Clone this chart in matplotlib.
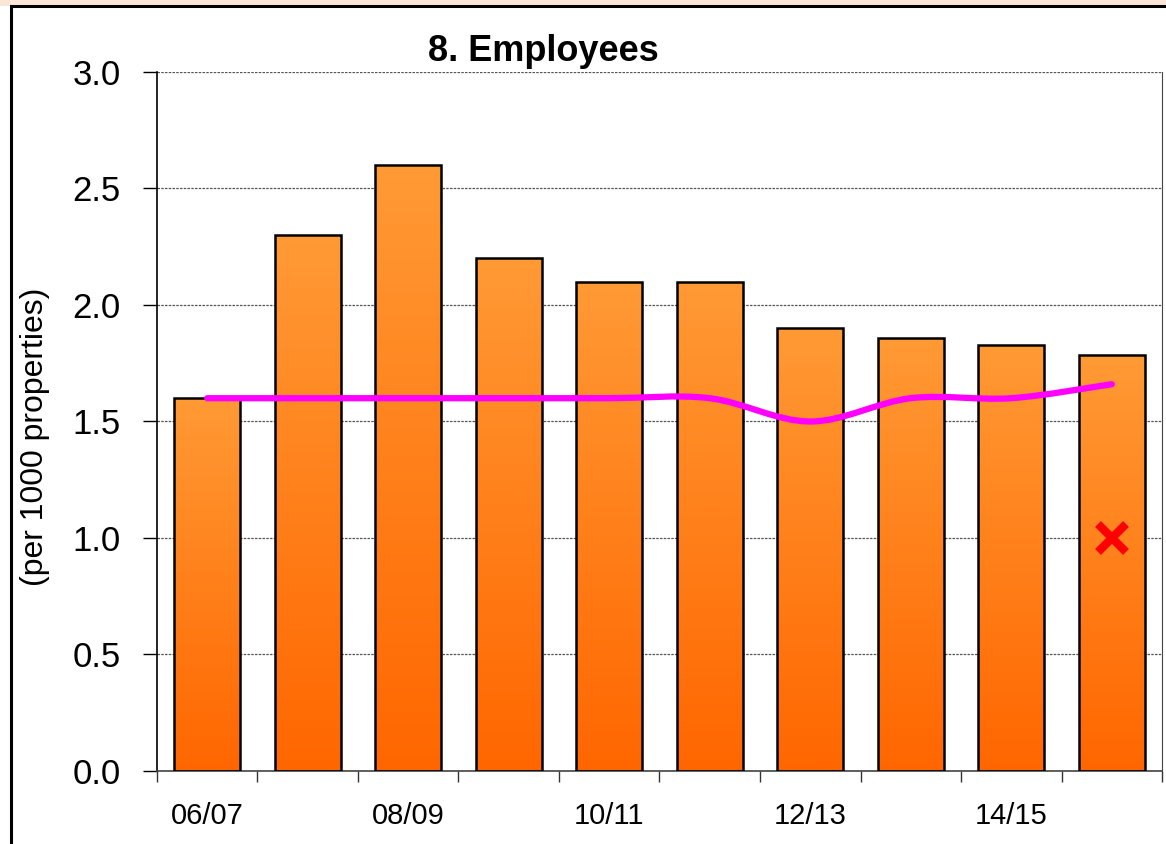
import numpy as np
import matplotlib.pyplot as plt
from matplotlib.patches import Rectangle
from matplotlib.path import Path
from matplotlib.patches import PathPatch
from matplotlib.colors import LinearSegmentedColormap

plt.rcParams['font.family'] = ['Liberation Sans Narrow', 'Liberation Sans', 'DejaVu Sans']

# data
years = ['06/07', '07/08', '08/09', '09/10', '10/11', '11/12', '12/13', '13/14', '14/15', '15/16']
employees = [1.6, 2.3, 2.6, 2.2, 2.1, 2.1, 1.9, 1.86, 1.83, 1.785]
benchmark = [1.6, 1.6, 1.6, 1.6, 1.6, 1.6, 1.5, 1.6, 1.6, 1.66]
target_x = 9
target_y = 1.0

fig = plt.figure(figsize=(11.66, 8.44), dpi=100)
fig.patch.set_facecolor('white')
# pale band at top and the black frame
fig.patches.append(Rectangle((0, 0.993), 1, 0.007, transform=fig.transFigure,
                             facecolor='#fbe6d6', edgecolor='none', zorder=-2))
fig.patches.append(Rectangle((0.0095, -0.05), 1.1, 1.043, transform=fig.transFigure,
                             facecolor='white', edgecolor='black', lw=2.2, zorder=-1))

ax = fig.add_axes([0.1346, 0.0865, 0.862, 0.8282])

# gradient orange bars
cmap = LinearSegmentedColormap.from_list('org', ['#ff6600', '#ff9a35'])
grad = np.linspace(0, 1, 256).reshape(-1, 1)
width = 0.66
x = np.arange(len(years))
for xi, v in zip(x, employees):
    im = ax.imshow(grad, cmap=cmap, aspect='auto', origin='lower',
                   extent=[xi - width / 2, xi + width / 2, 0, v], zorder=2)
    r = Rectangle((xi - width / 2, 0), width, v, facecolor='none',
                  edgecolor='black', lw=1.8, zorder=3)
    ax.add_patch(r)
    im.set_clip_path(r)

# smoothed benchmark line (Excel-like bezier smoothing)
pts = np.column_stack([x, benchmark])
verts = [pts[0]]
codes = [Path.MOVETO]
for i in range(len(pts) - 1):
    p0 = pts[i - 1] if i > 0 else pts[i]
    p1 = pts[i]
    p2 = pts[i + 1]
    p3 = pts[i + 2] if i + 2 < len(pts) else pts[i + 1]
    c1 = p1 + (p2 - p0) / 6
    c2 = p2 - (p3 - p1) / 6
    verts += [c1, c2, p2]
    codes += [Path.CURVE4] * 3
ax.add_patch(PathPatch(Path(verts, codes), facecolor='none', edgecolor='#ff00ff',
                       lw=4.5, capstyle='round', zorder=4))

ax.plot(target_x, target_y, marker='x', color='#ff0000', ms=20, mew=6, zorder=5)
ax.set_xlim(-0.5, 9.5)
ax.set_ylim(0, 3.0)

# grid and axes styling
ax.set_yticks(np.arange(0, 3.01, 0.5))
ax.set_yticklabels([f'{t:.1f}' for t in np.arange(0, 3.01, 0.5)], fontsize=25)
ax.yaxis.grid(True, linestyle=(0, (2, 1)), color='#555555', lw=0.9)
ax.set_axisbelow(True)
ax.set_xticks(np.arange(-0.5, 10, 1))
ax.set_xticklabels([])
ax.set_xticks(x[::2], minor=True)
ax.set_xticklabels(years[::2], minor=True, fontsize=21)
ax.tick_params(axis='x', which='major', length=8, width=1, color='#333333', direction='out')
ax.tick_params(axis='x', which='minor', length=0, pad=22)
ax.tick_params(axis='y', length=10, width=1, direction='out', pad=16)
ax.spines['top'].set_visible(False)
ax.spines['right'].set_color('#444444')
ax.spines['left'].set_linewidth(1.2)
ax.spines['bottom'].set_linewidth(1.2)
ax.spines['bottom'].set_color('#444444')

ax.set_ylabel('(per 1000 properties)', fontsize=23)
ax.yaxis.set_label_coords(-0.106, 0.478)
ax.set_title('8. Employees', fontsize=26, fontweight='bold', pad=8, x=0.384)

fig.savefig('out.png', dpi=100)
